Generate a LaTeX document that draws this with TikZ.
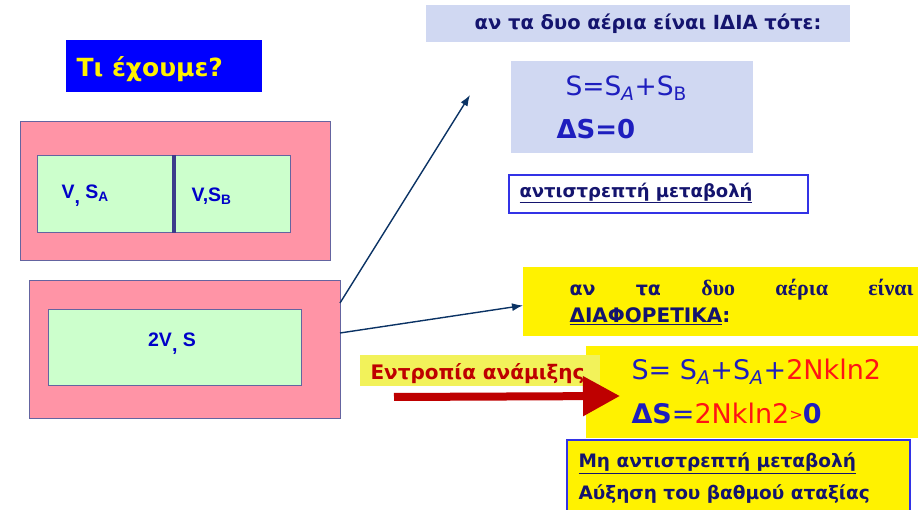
\documentclass[tikz,border=0pt]{standalone}
\usepackage{fontspec}
\setmainfont{Liberation Serif}
\newfontfamily\comic{DejaVu Sans}
\newfontfamily\arial{Liberation Sans}
\usetikzlibrary{arrows.meta}
\definecolor{pinkbox}{RGB}{255,148,166}
\definecolor{greenbox}{RGB}{204,255,204}
\definecolor{edge}{RGB}{100,100,160}
\definecolor{divider}{RGB}{60,60,140}
\definecolor{boxtext}{RGB}{0,0,200}
\definecolor{navyarrow}{RGB}{10,50,100}
\definecolor{lavender}{RGB}{208,216,242}
\definecolor{navytext}{RGB}{20,20,110}
\definecolor{formblue}{RGB}{30,30,190}
\definecolor{formred}{RGB}{255,20,20}
\definecolor{paleyellow}{RGB}{242,242,90}
\definecolor{darkred}{RGB}{190,0,0}
\definecolor{frameblue}{RGB}{50,50,230}
\tikzset{
  rbox/.style={anchor=north west, inner sep=0pt, outer sep=0pt},
  pinkrect/.style={rbox, fill=pinkbox, draw=edge, line width=0.6pt},
  greenrect/.style={rbox, fill=greenbox, draw=edge, line width=0.6pt},
  lavrect/.style={rbox, fill=lavender},
  yelrect/.style={rbox, fill=yellow},
  framerect/.style={rbox, draw=frameblue, line width=1.5pt},
  gaslabel/.style={font=\arial\bfseries\fontsize{19.5}{22}\selectfont, text=boxtext},
  navyline/.style={draw=navyarrow, line width=1.4pt, -{Latex[length=11pt,width=8pt]}},
}
\begin{document}
\begin{tikzpicture}[x=1pt,y=-1pt]
\useasboundingbox (0,0) rectangle (922,510);
% title
\node[rbox, fill=blue, minimum width=196pt, minimum height=52pt] (title) at (66,40) {};
\node[font=\comic\bfseries\fontsize{25}{28}\selectfont, text=yellow, anchor=west] (titletxt) at (73,69) {Τι έχουμε?};
% first container
\node[pinkrect, minimum width=310pt, minimum height=139pt] (pink1) at (20,121) {};
\node[greenrect, minimum width=253pt, minimum height=77pt] (green1) at (37,155) {};
\draw[divider, line width=3.5pt] (174,155) -- (174,233);
\node[gaslabel, anchor=west] (va) at (58,196) {V\raisebox{-5pt}{,} S\textsubscript{A}};
\node[gaslabel, anchor=west] (vb) at (188,196) {V,S\textsubscript{B}};
% second container
\node[pinkrect, minimum width=311pt, minimum height=138pt] (pink2) at (29,280) {};
\node[greenrect, minimum width=253pt, minimum height=76pt] (green2) at (48,309) {};
\node[gaslabel] (vs) at (172,344) {2V\raisebox{-5pt}{,} S};
% same gases
\node[lavrect, minimum width=424pt, minimum height=37pt] (same) at (426,5) {};
\node[font=\comic\bfseries\fontsize{19.5}{22}\selectfont, text=navytext] (sametxt) at (648,24) {αν τα δυο αέρια είναι ΙΔΙΑ τότε:};
\node[lavrect, minimum width=242pt, minimum height=92pt] (sameform) at (511,61) {};
\node[font=\comic\fontsize{26.5}{30}\selectfont, text=formblue, anchor=west] (f1) at (562,88) {S=S\textsubscript{\itshape A}+S\textsubscript{B}};
\node[font=\comic\bfseries\fontsize{26}{30}\selectfont, text=formblue, anchor=west] (f2) at (553,129) {ΔS=0};
\node[framerect, fill=white, minimum width=299pt, minimum height=38pt] (rev) at (509,175) {};
\node[font=\comic\bfseries\fontsize{18}{21}\selectfont, text=navytext, anchor=west] (revtxt) at (516,193) {\underline{αντιστρεπτή μεταβολή}};
% different gases
\node[yelrect, minimum width=395pt, minimum height=69pt] (diff) at (523,267) {};
\node[font=\bfseries\fontsize{22}{25}\selectfont, text=navytext, anchor=west] (difftxt1) at (566,290) {\makebox[344pt][s]{{\comic\fontsize{19}{22}\selectfont αν}\hfill {\comic\fontsize{19}{22}\selectfont τα}\hfill δυο\hfill αέρια\hfill είναι}};
\node[font=\comic\bfseries\fontsize{20}{23}\selectfont, text=navytext, anchor=west] (difftxt2) at (566,316) {\underline{ΔΙΑΦΟΡΕΤΙΚΑ}:};
\node[yelrect, minimum width=332pt, minimum height=92pt] (diffform) at (586,346) {};
\node[rbox, fill=paleyellow, minimum width=240pt, minimum height=31pt] (mix) at (360,355) {};
\draw[darkred, line width=8pt, -{Triangle[length=37pt,width=38pt]}] ([xshift=34pt,yshift=-11pt]mix.south west) -- ([xshift=34pt,yshift=-4pt]diffform.west);
\node[font=\comic\bfseries\fontsize{20}{23}\selectfont, text=darkred, anchor=west] (mixtxt) at (367,374) {Εντροπία ανάμιξης};
\node[font=\comic\fontsize{27}{30}\selectfont, text=formblue, anchor=west] (g1) at (628,372) {S= S\textsubscript{\itshape A}+S\textsubscript{\itshape A}+\textcolor{formred}{2Nkln2}};
\node[font=\comic\fontsize{27}{30}\selectfont, text=formblue, anchor=west] (g2) at (628,413) {\textbf{ΔS}=\textcolor{formred}{2Nkln2\raisebox{0.2ex}{\scalebox{0.6}{>}}}\textbf{0}};
\node[framerect, fill=yellow, minimum width=343pt, minimum height=80pt] (irr) at (567,440) {};
\node[font=\comic\bfseries\fontsize{18.5}{21}\selectfont, text=navytext, anchor=west] (irr1) at (575,463) {\underline{Μη αντιστρεπτή μεταβολή}};
\node[font=\comic\bfseries\fontsize{18.5}{21}\selectfont, text=navytext, anchor=west] (irr2) at (575,494) {Αύξηση του βαθμού αταξίας};
% arrows
\coordinate (upend) at (470,95);
\draw[navyline] ([yshift=46pt]pink2.east) -- (upend);
\draw[navyline] ([yshift=16pt]pink2.east) -- ([yshift=-4pt]diff.west);
\end{tikzpicture}
\end{document}
